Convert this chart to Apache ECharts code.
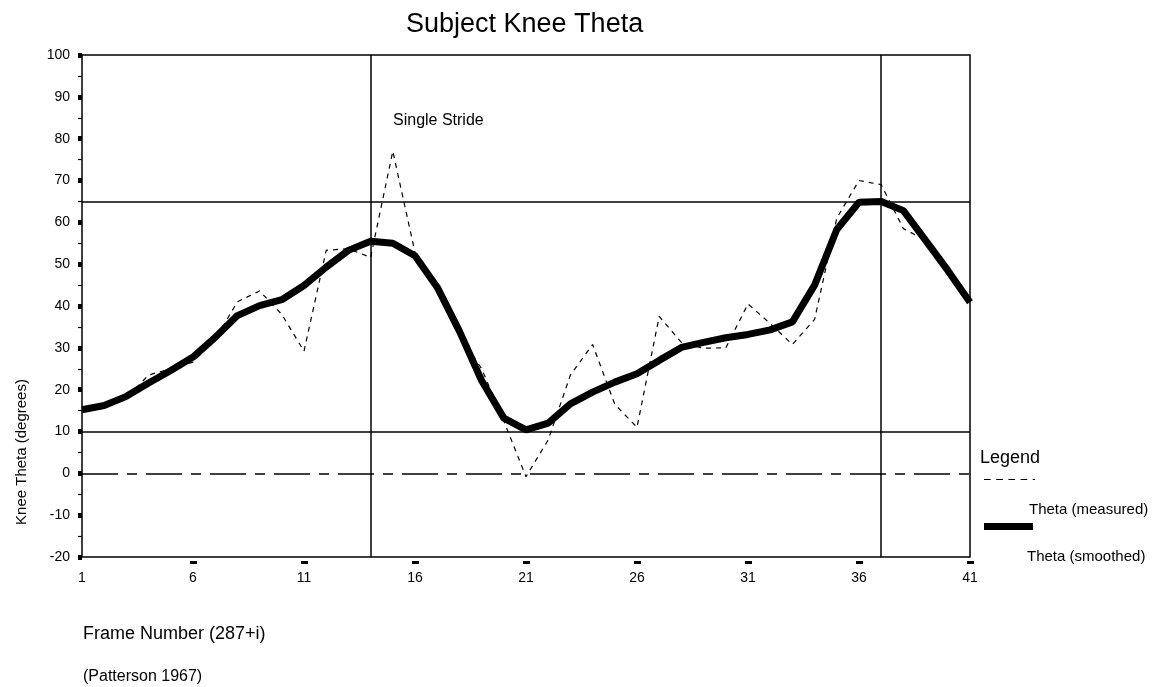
<!DOCTYPE html>
<html><head><meta charset="utf-8">
<script src="https://cdn.jsdelivr.net/npm/echarts@6/dist/echarts.min.js"></script>
<style>html,body{margin:0;padding:0;background:#fff}#c{width:1167px;height:687px}</style>
</head><body><div id="c"></div>
<script>
const frames = ['1','2','3','4','5','6','7','8','9','10','11','12','13','14','15','16','17','18','19','20',
  '21','22','23','24','25','26','27','28','29','30','31','32','33','34','35','36','37','38','39','40','41'];
const thetaMeasured = [15, 16, 18, 23.5, 25, 26.6, 32, 41, 43.6, 38, 29.2, 53.3, 53.7, 51.6, 77, 52.8,
  44, 33, 25, 12.5, -0.8, 8, 23.5, 30.8, 16.5, 11, 37.5, 31.3, 29.9, 30, 40.5, 35.8, 30.8, 36.8,
  61, 70, 69, 58.5, 55.7, 48.5, 40.9];
const thetaSmoothed = [15.2, 16.2, 18.4, 21.6, 24.6, 27.8, 32.5, 37.7, 40.1, 41.5, 44.9, 49.3, 53.3, 55.5,
  55, 52, 44.5, 34, 22.2, 13.2, 10.4, 12, 16.6, 19.4, 21.8, 23.8, 27, 30.1, 31.3, 32.4, 33.2, 34.3,
  36.2, 45, 58.3, 64.8, 65, 62.8, 55.7, 48.5, 40.9];
const strideStart = '14';
const strideEnd = '37';
const refLevels = [65, 10];
const zeroLevel = 0;
const yMin = -20, yMax = 100, yStep = 10;

const FONT = 'Liberation Sans';
const chart = echarts.init(document.getElementById('c'), null, {renderer: 'canvas'});
const solidRef = {type: 'solid', color: '#000', width: 1.5};
const legendText = {fontFamily: FONT, fontSize: 15, color: '#000',
  rich: {t: {fontFamily: FONT, fontSize: 15, color: '#000', padding: [60, 0, 0, -11]}}};

chart.setOption({
  animation: false,
  backgroundColor: '#fff',
  title: {
    text: 'Subject Knee Theta', left: 406, top: 11, padding: 0,
    textStyle: {fontFamily: FONT, fontSize: 27, fontWeight: 'normal', color: '#000'}
  },
  grid: {left: 82, right: 197, top: 55, bottom: 130, show: true, borderColor: '#000', borderWidth: 1.5, backgroundColor: 'transparent'},
  legend: [
    {
      orient: 'vertical', left: 984, top: 479, padding: 0, itemWidth: 51, itemHeight: 1.5,
      data: [{name: 'Theta (measured)',
        icon: 'path://M0,0H6V1H0Z M11,0H17V1H11Z M22,0H28V1H22Z M33,0H39V1H33Z M44,0H46V1H44Z',
        itemStyle: {color: '#000'}}],
      formatter: '{t|{name}}', textStyle: legendText, selectedMode: false
    },
    {
      orient: 'vertical', left: 984, top: 523, padding: 0, itemWidth: 49, itemHeight: 7,
      data: [{name: 'Theta (smoothed)', icon: 'rect', itemStyle: {color: '#000'}}],
      formatter: '{t|{name}}', textStyle: legendText, selectedMode: false
    }
  ],
  xAxis: {
    type: 'category', data: frames, boundaryGap: false, offset: 4,
    axisLine: {show: false, onZero: false},
    axisTick: {show: true, length: 3, interval: (i) => i > 0 && i % 5 === 0, lineStyle: {color: '#000', width: 7}},
    axisLabel: {interval: 4, margin: 10, fontFamily: FONT, fontSize: 14, color: '#000'},
    splitLine: {show: false},
    name: 'Frame Number (287+i)', nameLocation: 'start', nameGap: -1,
    nameTextStyle: {fontFamily: FONT, fontSize: 18, color: '#000', align: 'left', verticalAlign: 'top', padding: [64, 0, 0, 0]}
  },
  yAxis: {
    type: 'value', min: yMin, max: yMax, interval: yStep,
    axisLine: {show: false},
    axisTick: {show: true, length: 4, lineStyle: {color: '#000', width: 5}},
    minorTick: {show: true, splitNumber: 2, length: 4, lineStyle: {color: '#000', width: 1.2}},
    axisLabel: {margin: 12, fontFamily: FONT, fontSize: 14, color: '#000'},
    splitLine: {show: false},
    name: 'Knee Theta (degrees)', nameLocation: 'middle', nameGap: 53, nameRotate: 90,
    nameTextStyle: {fontFamily: FONT, fontSize: 15, color: '#000', padding: [0, 292, 0, 0]}
  },
  graphic: [
    {type: 'text', left: 393, top: 113, style: {text: 'Single Stride', font: '16px "Liberation Sans"', fill: '#000'}},
    {type: 'text', left: 980, top: 449, style: {text: 'Legend', font: '18px "Liberation Sans"', fill: '#000'}},
    {type: 'text', left: 83, top: 669, style: {text: '(Patterson 1967)', font: '16px "Liberation Sans"', fill: '#000'}}
  ],
  series: [
    {
      name: 'Theta (measured)', type: 'line', data: thetaMeasured, symbol: 'none', z: 2,
      lineStyle: {color: '#000', width: 1.2, type: [5, 5]},
      itemStyle: {color: '#000'},
      markLine: {
        silent: true, symbol: ['none', 'none'], label: {show: false}, lineStyle: solidRef,
        data: [
          {xAxis: strideStart}, {xAxis: strideEnd},
          {yAxis: refLevels[0]}, {yAxis: refLevels[1]},
          {yAxis: zeroLevel, lineStyle: {type: [36, 9, 10, 9], color: '#000', width: 1.5}}
        ]
      }
    },
    {
      name: 'Theta (smoothed)', type: 'line', data: thetaSmoothed, symbol: 'none', z: 3,
      lineStyle: {color: '#000', width: 7},
      itemStyle: {color: '#000'}
    }
  ]
});
</script></body></html>
